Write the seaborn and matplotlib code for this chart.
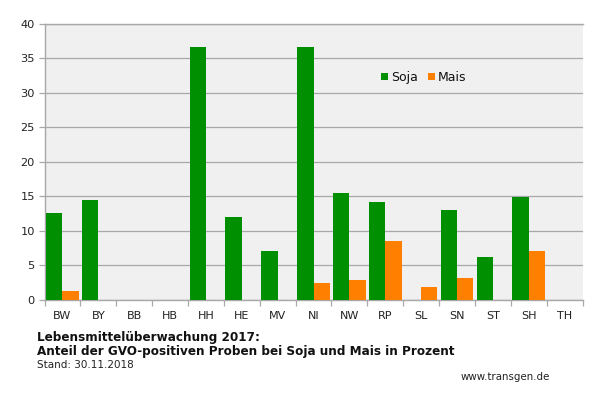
import numpy as np
import pandas as pd
import matplotlib
matplotlib.use('Agg')
import matplotlib.pyplot as plt
import seaborn as sns

# Bundeslaender and percentages
laender = ['BW', 'BY', 'BB', 'HB', 'HH', 'HE', 'MV', 'NI', 'NW', 'RP', 'SL', 'SN', 'ST', 'SH', 'TH']
soja = [12.5, 14.5, 0, 0, 36.6, 12.0, 7.1, 36.7, 15.4, 14.2, 0, 13.0, 6.2, 14.9, 0]
mais = [1.2, 0, 0, 0, 0, 0, 0, 2.4, 2.85, 8.5, 1.75, 3.15, 0, 7.0, 0]
y_ticks = [0, 5, 10, 15, 20, 25, 30, 35, 40]

GREEN = '#008f00'
ORANGE = '#ff8000'
GRID = '#a8a8a8'
TEXT = '#222222'

sns.set_style('white')
plt.rcParams['font.family'] = ['DejaVu Sans']

df = pd.DataFrame({'land': laender * 2,
                   'wert': soja + mais,
                   'art': ['Soja'] * len(laender) + ['Mais'] * len(laender)})

W, H = 610, 407
fig = plt.figure(figsize=(W / 100, H / 100), dpi=100)
ax = fig.add_axes([44.5 / W, 1 - 299.5 / H, 538 / W, 275.5 / H])

sns.barplot(data=df, x='land', y='wert', hue='art', palette={'Soja': GREEN, 'Mais': ORANGE},
            width=0.91, saturation=1, errorbar=None, linewidth=0, ax=ax, zorder=3)

ax.set_facecolor('#f0f0f0')
ax.set_xlim(-0.5, len(laender) - 0.5)
ax.set_ylim(0, 40)
ax.set_xlabel('')
ax.set_ylabel('')
ax.set_yticks(y_ticks)
ax.grid(axis='y', color=GRID, linewidth=0.9, zorder=1)
ax.set_axisbelow(True)

# ticks sit between the categories, labels in the middle
ax.set_xticks(np.arange(len(laender) + 1) - 0.5, minor=True)
ax.tick_params(axis='x', which='minor', length=4, width=0.9, color=GRID, bottom=True)
ax.tick_params(axis='x', which='major', length=0, pad=8.5, labelsize=8, labelcolor=TEXT)
ax.tick_params(axis='y', length=4, width=0.9, color=GRID, left=True, pad=3, labelsize=8.2, labelcolor=TEXT)

ax.spines['right'].set_visible(False)
for side in ['left', 'bottom', 'top']:
    ax.spines[side].set_color(GRID)
    ax.spines[side].set_linewidth(1.0)

handles, labels = ax.get_legend_handles_labels()
ax.legend(handles, labels, ncol=2, frameon=False, fontsize=9, labelcolor='#111111',
          handlelength=0.58, handleheight=0.58, handletextpad=0.22, columnspacing=0.8,
          loc='center left', bbox_to_anchor=((380.7 - 44.5) / 538, 1 - (77.5 - 24) / 275.5),
          borderpad=0, borderaxespad=0)

fig.text(37 / W, 1 - 337 / H, 'Lebensmittelüberwachung 2017:', fontsize=8.67, fontweight='bold',
         color='#111111', va='center')
fig.text(37 / W, 1 - 351.5 / H, 'Anteil der GVO-positiven Proben bei Soja und Mais in Prozent', fontsize=8.67,
         fontweight='bold', color='#111111', va='center')
fig.text(37 / W, 1 - 365 / H, 'Stand: 30.11.2018', fontsize=7.5, color=TEXT, va='center')
fig.text(461 / W, 1 - 377.5 / H, 'www.transgen.de', fontsize=7.4, color=TEXT, va='center')

fig.savefig('out.png', dpi=100)
